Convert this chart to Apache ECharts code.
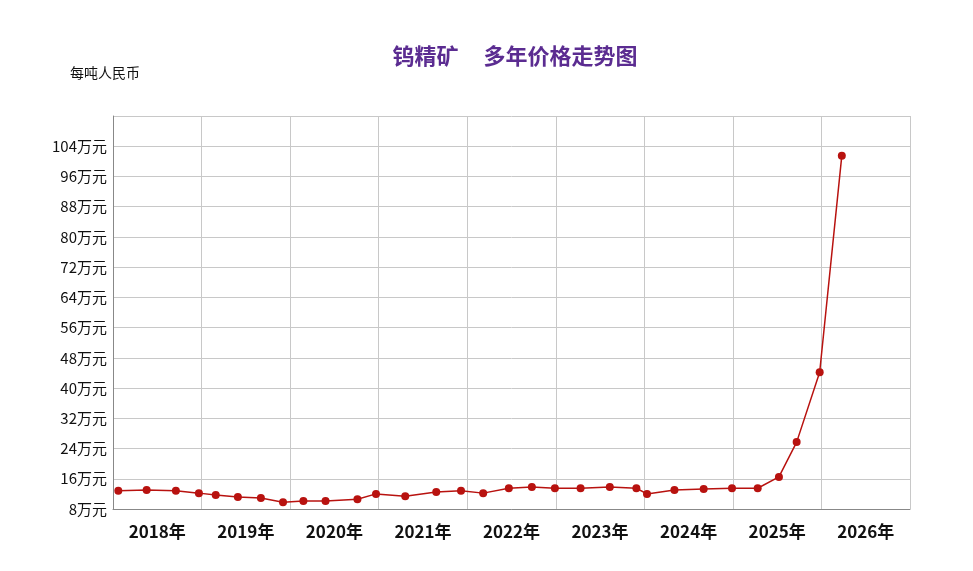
<!DOCTYPE html>
<html><head><meta charset="utf-8">
<script src="https://cdn.jsdelivr.net/npm/echarts@6/dist/echarts.min.js"></script>
<style>html,body{margin:0;background:#fff}#c{width:973px;height:571px}</style>
</head><body><div id="c"></div>
<script>
const years = ['2018年','2019年','2020年','2021年','2022年','2023年','2024年','2025年','2026年'];
const times = [2018.06,2018.38,2018.71,2018.97,2019.16,2019.41,2019.67,2019.92,2020.15,2020.40,2020.76,2020.97,2021.30,2021.65,2021.93,2022.18,2022.47,2022.73,2022.99,2023.28,2023.61,2023.91,2024.03,2024.34,2024.67,2024.99,2025.28,2025.52,2025.72,2025.98,2026.23];
const prices = [12.8,13.0,12.8,12.2,11.7,11.2,10.9,9.8,10.1,10.1,10.6,12.0,11.4,12.5,12.8,12.2,13.5,13.8,13.5,13.5,13.8,13.5,12.0,13.0,13.3,13.5,13.5,16.5,25.7,44.2,101.5];
const chart = echarts.init(document.getElementById('c'));
chart.setOption({
  animation:false,
  title:{text:'钨精矿     多年价格走势图',left:510,top:40,textAlign:'center',textStyle:{color:'#5b2c91',fontSize:22,fontWeight:'bold',fontFamily:'Noto Sans CJK SC'}},
  graphic:[{type:'text',left:70,top:66,style:{text:'每吨人民币',fill:'#111',font:'14px "Noto Sans CJK SC"'}}],
  grid:{left:113,right:63,top:116,bottom:62},
  xAxis:[
    {type:'value',min:2018,max:2027,interval:1,axisLabel:{show:false},axisTick:{show:false},
     axisLine:{show:true,lineStyle:{color:'#888'}},splitLine:{show:true,lineStyle:{color:'#c8c8c8'}}},
    {type:'category',data:years,position:'bottom',axisLine:{show:false},axisTick:{show:false},
     axisLabel:{fontSize:17,fontWeight:'bold',color:'#111',margin:14,fontFamily:'Noto Sans CJK SC'}}
  ],
  yAxis:{type:'value',min:8,max:112,interval:8,
    axisLine:{show:true,lineStyle:{color:'#888'}},axisTick:{show:false},
    splitLine:{lineStyle:{color:'#c8c8c8'}},
    axisLabel:{fontSize:15,color:'#111',margin:6,fontFamily:'Noto Sans CJK SC',formatter:v=>v===112?'':v+'万元'}},
  series:[{type:'line',xAxisIndex:0,data:times.map((t,i)=>[t,prices[i]]),
    symbol:'circle',symbolSize:8,itemStyle:{color:'#b8120f'},lineStyle:{color:'#b8120f',width:1.5}}]
});
</script></body></html>
